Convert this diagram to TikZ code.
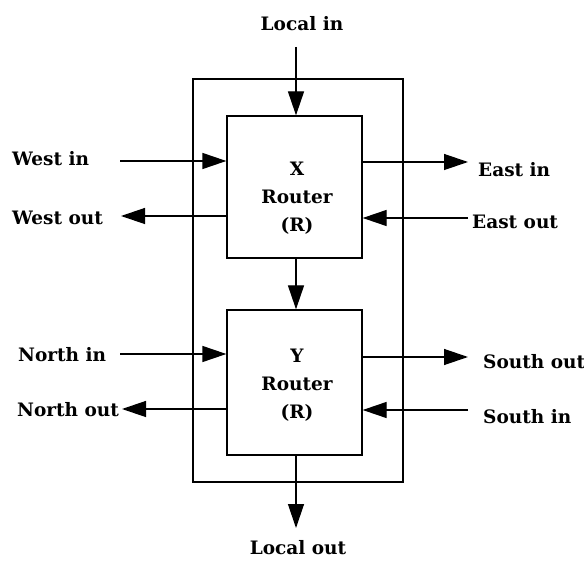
\documentclass[tikz,border=0pt]{standalone}
\usepackage{fontspec}
\setmainfont{DejaVu Serif}
\usetikzlibrary{arrows.meta}
\begin{document}
\begin{tikzpicture}[x=1pt,y=-1pt,
  lbl/.style={font=\bfseries\fontsize{18.5}{28}\selectfont, inner sep=0pt},
  rbox/.style={draw, line width=1.3pt, minimum width=135pt, inner sep=0pt},
  conn/.style={line width=1.3pt, -{Triangle[length=24pt,width=16pt]}}
]
\useasboundingbox (0,0) rectangle (584,561);
\fill[white] (0,0) rectangle (584,561);
% boxes
\node[draw, line width=1.3pt, minimum width=210pt, minimum height=403pt, inner sep=0pt] (outer) at (298,280.5) {};
\node[rbox, minimum height=142pt] (X) at (294.5,187) {};
\node[rbox, minimum height=145pt] (Y) at (294.5,382.5) {};
\node[lbl, align=center] (Xt) at (297,198) {X\\Router\\(R)};
\node[lbl, align=center] (Yt) at (297,385) {Y\\Router\\(R)};
% labels
\node[lbl] (localin) at (302,24) {Local in};
\node[lbl] (localout) at (298,548) {Local out};
\node[lbl, anchor=west] (westin) at (12,159) {West in};
\node[lbl, anchor=west] (westout) at (12,218) {West out};
\node[lbl, anchor=west] (eastin) at (478,170) {East in};
\node[lbl, anchor=west] (eastout) at (472,222) {East out};
\node[lbl, anchor=west] (northin) at (18,355) {North in};
\node[lbl, anchor=west] (northout) at (17,410) {North out};
\node[lbl, anchor=west] (southout) at (483,362) {South out};
\node[lbl, anchor=west] (southin) at (483,417) {South in};
% free ends
\coordinate (li) at (296,47);
\coordinate (lo) at (296,528);
\coordinate (wi) at (120,161);
\coordinate (wo) at (121,216);
\coordinate (ei) at (468,162);
\coordinate (eo) at (468,218);
\coordinate (ni) at (120,354);
\coordinate (no) at (122,409);
\coordinate (so) at (468,357);
\coordinate (si) at (468,410);
% connectors
\draw[conn] (li) -- (li |- X.north);
\draw[conn] (li |- X.south) -- (li |- Y.north);
\draw[conn] (li |- Y.south) -- (lo);
\draw[conn] (wi) -- (wi -| X.west);
\draw[conn] (wo -| X.west) -- (wo);
\draw[conn] (ei -| X.east) -- (ei);
\draw[conn] (eo) -- (eo -| X.east);
\draw[conn] (ni) -- (ni -| Y.west);
\draw[conn] (no -| Y.west) -- (no);
\draw[conn] (so -| Y.east) -- (so);
\draw[conn] (si) -- (si -| Y.east);
\end{tikzpicture}
\end{document}
